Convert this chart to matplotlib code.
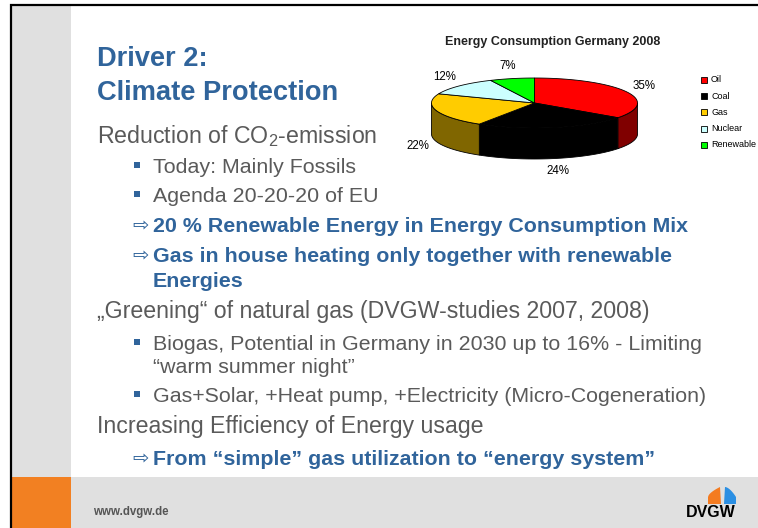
import numpy as np
import matplotlib
matplotlib.use('Agg')
import matplotlib.pyplot as plt
from matplotlib.patches import Rectangle, Polygon

plt.rcParams['font.family'] = ['Liberation Sans', 'DejaVu Sans']
plt.rcParams['mathtext.fontset'] = 'custom'
plt.rcParams['mathtext.rm'] = 'Liberation Sans'
plt.rcParams['mathtext.it'] = 'Liberation Sans'

# chart data
sources = ['Oil', 'Coal', 'Gas', 'Nuclear', 'Renewable']
shares = [35, 24, 22, 12, 7]
top_colors = ['#ff0000', '#000000', '#ffcc00', '#ccffff', '#00ff00']
side_colors = ['#800000', '#000000', '#806600', '#669999', '#008000']
chart_title = 'Energy Consumption Germany 2008'

BLUE = '#30649b'
GREY = '#5a5a5a'

fig = plt.figure(figsize=(7.58, 5.28), dpi=100)
ax = fig.add_axes([0, 0, 1, 1])
ax.set_xlim(0, 758)
ax.set_ylim(528, 0)
ax.axis('off')

# slide background
ax.add_patch(Rectangle((11, 5), 60, 472, color='#e0e0e0', lw=0))
ax.add_patch(Rectangle((11, 477), 60, 51, color='#f28022', lw=0))
ax.add_patch(Rectangle((71, 477), 687, 51, color='#e0e0e0', lw=0))
ax.plot([11, 11, 758], [528, 5, 5], color='black', lw=1.6, solid_joinstyle='miter')

# title
ax.text(97, 66, 'Driver 2:', fontsize=19.6, fontweight='bold', color=BLUE)
ax.text(97, 100, 'Climate Protection', fontsize=19.6, fontweight='bold', color=BLUE)

# body text
def plain(x, y, s, size=16.7):
    ax.text(x, y, s, fontsize=size, color=GREY, va='baseline')

def bullet(y, s):
    ax.add_patch(Rectangle((134, y - 11), 6, 6, color=BLUE, lw=0))
    plain(153, y, s, 15.4)

def arrow(y, s, show_arrow=True):
    if show_arrow:
        ax.text(132, y - 1, '\u21e8', fontsize=14, color=BLUE, va='baseline',
                family=['DejaVu Sans'])
    ax.text(153, y, s, fontsize=15.4, fontweight='bold', color=BLUE, va='baseline')

plain(97, 143, 'Reduction of CO$_2$-emission')
bullet(173, 'Today: Mainly Fossils')
bullet(202, 'Agenda 20-20-20 of EU')
arrow(232, '20 % Renewable Energy in Energy Consumption Mix')
arrow(262, 'Gas in house heating only together with renewable')
arrow(287, 'Energies', show_arrow=False)
plain(97, 318, '\u201eGreening\u201c of natural gas (DVGW-studies 2007, 2008)')
bullet(350, 'Biogas, Potential in Germany in 2030 up to 16% - Limiting')
plain(153, 373, '\u201cwarm summer night\u201d', 15.4)
bullet(402, 'Gas+Solar, +Heat pump, +Electricity (Micro-Cogeneration)')
plain(97, 433, 'Increasing Efficiency of Energy usage')
arrow(465, 'From \u201csimple\u201d gas utilization to \u201cenergy system\u201d')

# footer
ax.text(93, 515, 'www.dvgw.de', fontsize=8.3, fontweight='bold', color='#555555')
ax.text(711, 517, 'DVGW', fontsize=11.5, fontweight='bold', color='black',
        ha='center', va='baseline')
t = np.linspace(0, 1, 20)
orange = [(708, 504)] + [(708 + 12 * s, 497 - 10 * s ** 0.6) for s in t] + [(721, 504)]
blue = [(724, 504)] + [(725 + 11 * s, 487 + 10 * s ** 1.7) for s in t] + [(736, 504)]
ax.add_patch(Polygon(orange, closed=True, color='#f47b20', lw=0))
ax.add_patch(Polygon(blue, closed=True, color='#2b8fe3', lw=0))

# 3D pie
cx, cy, rx, ry, depth = 534.5, 103, 103, 25, 31
ax.text(553, 42, chart_title, fontsize=9, fontweight='bold', color='#222222',
        ha='center', va='center')

def pt(a, dy=0):
    r = np.radians(a)
    return cx + rx * np.cos(r), cy - ry * np.sin(r) + dy

bounds = 90 - np.concatenate([[0], np.cumsum(shares)]) * 3.6
for i in range(len(shares)):
    a1, a0 = bounds[i], bounds[i + 1]
    lo, hi = max(a0, -180), min(a1, 0)
    if lo < hi:
        aa = np.linspace(lo, hi, 60)
        poly = [pt(a) for a in aa] + [pt(a, depth) for a in aa[::-1]]
        ax.add_patch(Polygon(poly, closed=True, facecolor=side_colors[i],
                             edgecolor='black', lw=0.6))
for i in range(len(shares)):
    a1, a0 = bounds[i], bounds[i + 1]
    aa = np.linspace(a1, a0, 80)
    poly = [(cx, cy)] + [pt(a) for a in aa]
    ax.add_patch(Polygon(poly, closed=True, facecolor=top_colors[i],
                         edgecolor='black', lw=0.6))
    mid = np.radians((a1 + a0) / 2)
    lx = cx + (rx + 20) * np.cos(mid)
    ly = cy - (ry + 13) * np.sin(mid) + (depth if np.sin(mid) < 0 else 0)
    ax.text(lx, ly, f'{shares[i]}%', fontsize=8.3, ha='center', va='center',
            color='black')

# legend
for i, name in enumerate(sources):
    y = 80 + i * 16.2
    ax.add_patch(Rectangle((701, y - 3), 6, 6, facecolor=top_colors[i],
                           edgecolor='black', lw=0.6))
    ax.text(711, y, name, fontsize=6.5, va='center', color='black')

fig.savefig('out.png', dpi=100)
